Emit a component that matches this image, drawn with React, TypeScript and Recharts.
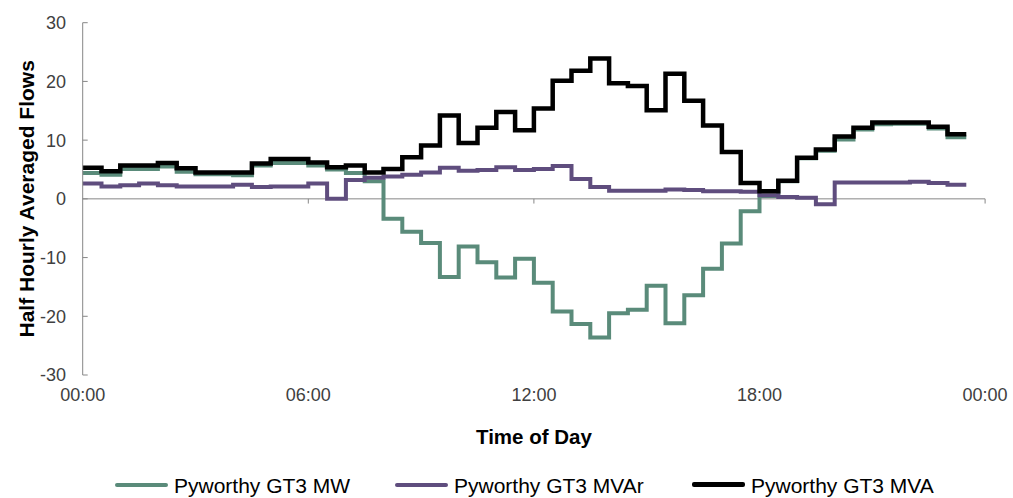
import React from 'react';
import { LineChart, Line, XAxis, YAxis, ReferenceLine, Legend } from 'recharts';

const times = [
  '00:00', '00:30', '01:00', '01:30', '02:00', '02:30', '03:00', '03:30',
  '04:00', '04:30', '05:00', '05:30', '06:00', '06:30', '07:00', '07:30',
  '08:00', '08:30', '09:00', '09:30', '10:00', '10:30', '11:00', '11:30',
  '12:00', '12:30', '13:00', '13:30', '14:00', '14:30', '15:00', '15:30',
  '16:00', '16:30', '17:00', '17:30', '18:00', '18:30', '19:00', '19:30',
  '20:00', '20:30', '21:00', '21:30', '22:00', '22:30', '23:00', '23:30',
];

const mwValues = [
  4.4, 4.1, 5.1, 5.1, 5.5, 4.6, 4.2, 4.2,
  4.0, 5.7, 6.1, 6.1, 5.7, 5.0, 4.4, 3.0,
  -3.4, -5.6, -7.5, -13.3, -8.1, -10.8, -13.4, -10.2,
  -14.3, -19.2, -21.3, -23.6, -19.5, -18.9, -14.8, -21.2,
  -16.4, -11.9, -7.6, -2.1, 0.5, 3.0, 6.9, 8.2,
  10.1, 11.8, 12.7, 12.8, 12.8, 12.0, 10.5, 10.5,
];

const mvarValues = [
  2.6, 2.1, 2.3, 2.6, 2.3, 2.1, 2.1, 2.1,
  2.4, 2.0, 2.1, 2.1, 2.6, 0.0, 3.2, 3.6,
  3.8, 4.1, 4.5, 5.3, 4.8, 4.9, 5.4, 4.9,
  5.1, 5.6, 3.4, 2.0, 1.4, 1.4, 1.4, 1.6,
  1.5, 1.3, 1.3, 1.2, 0.6, 0.3, 0.2, -0.9,
  2.8, 2.8, 2.8, 2.8, 2.9, 2.7, 2.4, 2.4,
];

const mvaValues = [
  5.3, 4.7, 5.7, 5.7, 6.1, 5.2, 4.5, 4.5,
  4.5, 6.0, 6.8, 6.8, 6.2, 5.4, 5.7, 4.5,
  5.1, 7.1, 9.1, 14.2, 9.5, 12.1, 14.8, 11.7,
  15.4, 20.1, 21.8, 23.9, 19.7, 19.2, 15.1, 21.3,
  16.7, 12.5, 8.0, 2.7, 1.3, 3.1, 7.0, 8.4,
  10.6, 12.1, 13.0, 13.0, 13.0, 12.3, 11.0, 11.0,
];

const xTickHours = [0, 6, 12, 18, 24];
const xTickLabels = ['00:00', '06:00', '12:00', '18:00', '00:00'];
const yTicks = [-30, -20, -10, 0, 10, 20, 30];
const seriesNames = ['Pyworthy GT3 MW', 'Pyworthy GT3 MVAr', 'Pyworthy GT3 MVA'];
const seriesColors = ['#5a8b7a', '#5f4d7e', '#000000'];

const toHours = (t: string) => {
  const [h, m] = t.split(':').map(Number);
  return h + m / 60;
};

const data = times.map((t, i) => ({
  h: toHours(t),
  mw: mwValues[i],
  mvar: mvarValues[i],
  mva: mvaValues[i],
}));

const FONT = "'Liberation Sans', Arial, sans-serif";
const AXIS_GRAY = '#878787';
const legendLefts = [115, 395, 692];

const renderLegend = (props: any) => {
  const payload = [...(props.payload || [])].sort(
    (a: any, b: any) => seriesNames.indexOf(a.value) - seriesNames.indexOf(b.value),
  );
  return (
    <div style={{ position: 'relative', width: 1013, height: 26, fontFamily: FONT }}>
      {payload.map((entry: any, i: number) => (
        <div key={i} style={{ position: 'absolute', left: legendLefts[i], top: 0, height: 24, whiteSpace: 'nowrap' }}>
          <div
            style={{
              position: 'absolute',
              left: 0,
              top: i === 2 ? 8 : 8.5,
              width: 53,
              height: i === 2 ? 5 : 4,
              background: entry.color,
              borderRadius: 2,
            }}
          />
          <span
            style={{
              position: 'absolute',
              left: 59,
              top: 0,
              fontSize: 21,
              lineHeight: '24px',
              color: '#000',
            }}
          >
            {entry.value}
          </span>
        </div>
      ))}
    </div>
  );
};

export default function App() {
  return (
    <div style={{ position: 'absolute', left: 0, top: 0, width: 1013, height: 498, background: '#fff' }}>
      <LineChart
        width={1013}
        height={498}
        data={data}
        margin={{ top: 22.7, right: 27.9, bottom: 93, left: 22.7 }}
        style={{ fontFamily: FONT }}
      >
        <XAxis
          dataKey="h"
          type="number"
          domain={[0, 24]}
          ticks={xTickHours}
          interval={0}
          tickFormatter={(v: number) => xTickLabels[xTickHours.indexOf(v)]}
          axisLine={false}
          tickLine={false}
          tickSize={0}
          tickMargin={13}
          height={30}
          tick={{ fill: '#404040', fontSize: 18, fontFamily: FONT }}
          label={{
            content: () => (
              <text x={533.9} y={444.3} textAnchor="middle" fontSize={20.5} fontWeight="bold" fill="#000" fontFamily={FONT}>
                Time of Day
              </text>
            ),
          }}
        />
        <YAxis
          type="number"
          domain={[-30, 30]}
          ticks={yTicks}
          interval={0}
          width={60}
          axisLine={{ stroke: AXIS_GRAY, strokeWidth: 1 }}
          tickLine={{ stroke: AXIS_GRAY, strokeWidth: 1 }}
          tickSize={-5}
          tickMargin={21.7}
          tick={{ fill: '#404040', fontSize: 18, fontFamily: FONT }}
          label={{
            content: () => (
              <text
                x={34}
                y={198.8}
                transform="rotate(-90 34 198.8)"
                textAnchor="middle"
                fontSize={21}
                fontWeight="bold"
                fill="#000"
                fontFamily={FONT}
              >
                Half Hourly Averaged Flows
              </text>
            ),
          }}
        />
        <ReferenceLine y={0} stroke={AXIS_GRAY} strokeWidth={1} />
        {xTickHours.slice(1).map((hr) => (
          <ReferenceLine
            key={hr}
            segment={[
              { x: hr, y: 0 },
              { x: hr, y: -0.8 },
            ]}
            stroke={AXIS_GRAY}
            strokeWidth={1}
          />
        ))}
        <Line
          type="stepAfter"
          dataKey="mw"
          name={seriesNames[0]}
          stroke={seriesColors[0]}
          strokeWidth={4}
          dot={false}
          activeDot={false}
          isAnimationActive={false}
        />
        <Line
          type="stepAfter"
          dataKey="mvar"
          name={seriesNames[1]}
          stroke={seriesColors[1]}
          strokeWidth={4}
          dot={false}
          activeDot={false}
          isAnimationActive={false}
        />
        <Line
          type="stepAfter"
          dataKey="mva"
          name={seriesNames[2]}
          stroke={seriesColors[2]}
          strokeWidth={4.5}
          dot={false}
          activeDot={false}
          isAnimationActive={false}
        />
        <Legend
          layout="horizontal"
          verticalAlign="middle"
          align="center"
          content={renderLegend}
          wrapperStyle={{ position: 'absolute', left: 0, top: 474, width: 1013, height: 26 }}
        />
      </LineChart>
    </div>
  );
}
